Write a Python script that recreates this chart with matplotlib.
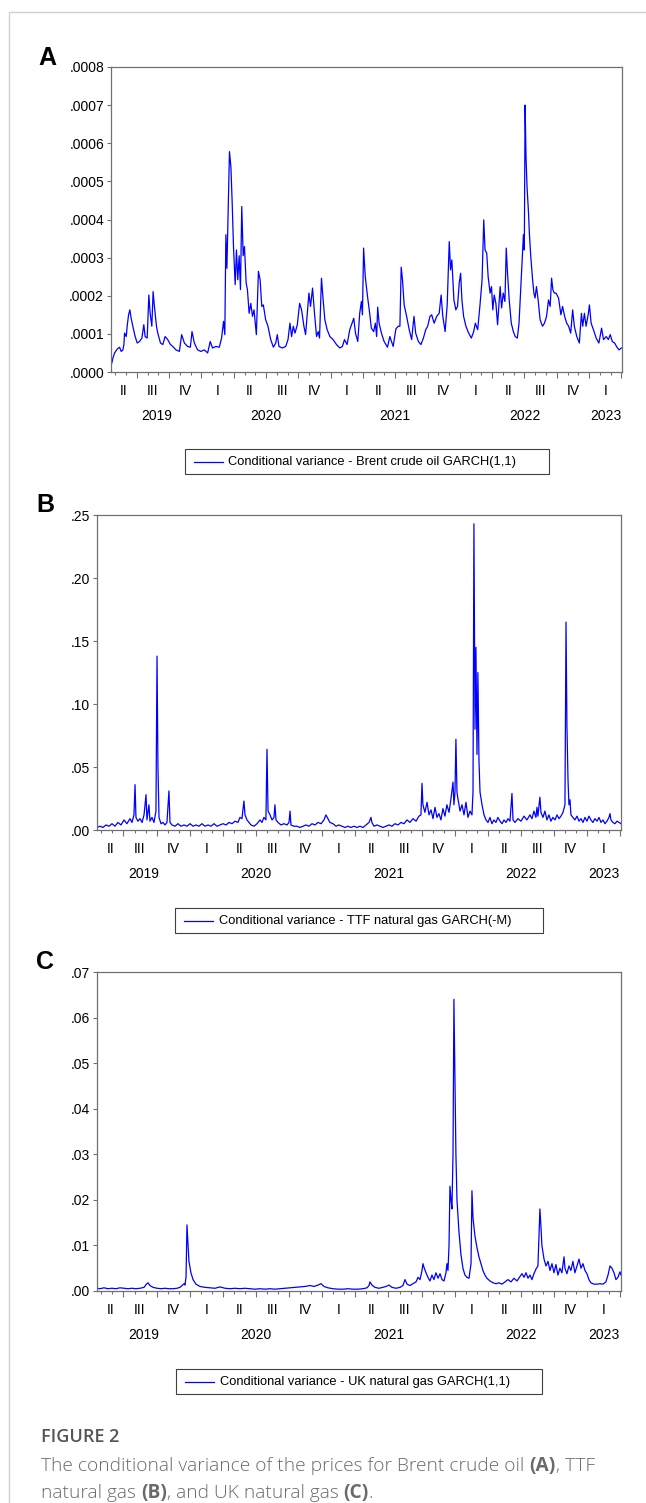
import matplotlib
matplotlib.use("Agg")
import matplotlib.pyplot as plt
from matplotlib.lines import Line2D
from matplotlib.patches import Rectangle

# ---- data (time in decimal years, values = conditional variance) ----
t_brent = [2019.307, 2019.315, 2019.328, 2019.348, 2019.366, 2019.379, 2019.392, 2019.400, 2019.405,
           2019.418, 2019.425, 2019.436, 2019.446, 2019.456, 2019.469, 2019.487, 2019.503, 2019.521,
           2019.539, 2019.554, 2019.564, 2019.580, 2019.593, 2019.603, 2019.616, 2019.626, 2019.636,
           2019.652, 2019.662, 2019.683, 2019.701, 2019.719, 2019.739, 2019.760, 2019.778, 2019.803,
           2019.829, 2019.847, 2019.868, 2019.893, 2019.914, 2019.927, 2019.945, 2019.970, 2019.996,
           2020.022, 2020.048, 2020.068, 2020.086, 2020.112, 2020.138, 2020.156, 2020.171, 2020.181,
           2020.189, 2020.197, 2020.207, 2020.217, 2020.228, 2020.238, 2020.248, 2020.261, 2020.271,
           2020.281, 2020.292, 2020.302, 2020.312, 2020.323, 2020.333, 2020.346, 2020.356, 2020.369,
           2020.382, 2020.395, 2020.407, 2020.425, 2020.441, 2020.454, 2020.467, 2020.479, 2020.497,
           2020.515, 2020.536, 2020.557, 2020.575, 2020.587, 2020.600, 2020.626, 2020.652, 2020.670,
           2020.685, 2020.698, 2020.711, 2020.724, 2020.742, 2020.760, 2020.775, 2020.793, 2020.806,
           2020.819, 2020.832, 2020.844, 2020.860, 2020.875, 2020.891, 2020.904, 2020.914, 2020.929,
           2020.942, 2020.955, 2020.973, 2020.994, 2021.019, 2021.045, 2021.071, 2021.091, 2021.107,
           2021.127, 2021.148, 2021.166, 2021.179, 2021.192, 2021.210, 2021.225, 2021.238, 2021.246,
           2021.255, 2021.268, 2021.284, 2021.302, 2021.315, 2021.333, 2021.346, 2021.356, 2021.364,
           2021.375, 2021.393, 2021.414, 2021.440, 2021.458, 2021.484, 2021.505, 2021.523, 2021.536,
           2021.546, 2021.556, 2021.569, 2021.588, 2021.608, 2021.627, 2021.645, 2021.658, 2021.679,
           2021.699, 2021.718, 2021.736, 2021.751, 2021.769, 2021.782, 2021.801, 2021.821, 2021.840,
           2021.855, 2021.868, 2021.886, 2021.902, 2021.918, 2021.928, 2021.938, 2021.954, 2021.969,
           2021.982, 2021.995, 2022.006, 2022.016, 2022.029, 2022.047, 2022.068, 2022.089, 2022.107,
           2022.120, 2022.138, 2022.156, 2022.172, 2022.185, 2022.195, 2022.208, 2022.219, 2022.234,
           2022.245, 2022.255, 2022.266, 2022.279, 2022.292, 2022.302, 2022.312, 2022.323, 2022.336,
           2022.349, 2022.359, 2022.369, 2022.382, 2022.398, 2022.414, 2022.429, 2022.445, 2022.458,
           2022.471, 2022.481, 2022.492, 2022.499, 2022.505, 2022.512, 2022.520, 2022.531, 2022.538,
           2022.549, 2022.562, 2022.573, 2022.582, 2022.593, 2022.606, 2022.621, 2022.640, 2022.655,
           2022.671, 2022.686, 2022.699, 2022.710, 2022.720, 2022.731, 2022.744, 2022.764, 2022.782,
           2022.795, 2022.811, 2022.827, 2022.842, 2022.858, 2022.873, 2022.886, 2022.905, 2022.925,
           2022.941, 2022.951, 2022.964, 2022.977, 2022.993, 2023.003, 2023.016, 2023.034, 2023.055,
           2023.076, 2023.097, 2023.112, 2023.133, 2023.149, 2023.164, 2023.180, 2023.198, 2023.216,
           2023.232, 2023.250]
v_brent = [0.24, 0.37, 0.50, 0.60, 0.65, 0.54, 0.58, 0.72, 1.02,
           0.93, 1.20, 1.50, 1.63, 1.41, 1.20, 0.93, 0.76, 0.80,
           0.89, 1.24, 0.93, 0.89, 2.02, 1.54, 1.20, 2.11, 1.72,
           1.20, 1.02, 0.76, 0.72, 0.93, 0.85, 0.72, 0.67, 0.58,
           0.54, 0.98, 0.76, 0.67, 0.65, 1.06, 0.76, 0.58, 0.54,
           0.58, 0.50, 0.80, 0.63, 0.67, 0.65, 0.89, 1.33, 0.98,
           3.60, 2.72, 4.25, 5.78, 5.38, 4.43, 3.29, 2.29, 3.20,
           2.42, 3.05, 2.16, 4.34, 3.05, 3.29, 2.33, 2.16, 1.54,
           1.80, 1.46, 1.63, 0.98, 2.64, 2.42, 1.72, 1.76, 1.37,
           1.20, 0.85, 0.65, 0.76, 0.98, 0.67, 0.63, 0.67, 0.85,
           1.28, 0.93, 1.20, 1.02, 1.24, 1.80, 1.63, 1.20, 0.98,
           1.54, 2.07, 1.72, 2.20, 1.54, 0.93, 1.06, 0.89, 2.46,
           1.89, 1.37, 1.11, 0.93, 0.85, 0.72, 0.63, 0.67, 0.85,
           0.72, 1.11, 1.28, 1.41, 1.02, 0.80, 1.54, 1.85, 1.50,
           3.25, 2.50, 2.02, 1.54, 1.15, 1.06, 1.28, 0.93, 1.70,
           1.28, 1.02, 0.80, 0.65, 0.93, 0.67, 1.13, 1.20, 1.20,
           2.75, 2.42, 1.76, 1.46, 1.11, 0.85, 1.46, 1.02, 0.80,
           0.72, 0.89, 1.11, 1.20, 1.46, 1.50, 1.28, 1.46, 1.54,
           2.02, 1.46, 1.06, 1.76, 3.42, 2.68, 2.94, 1.89, 1.63,
           1.72, 2.33, 2.59, 1.89, 1.46, 1.20, 1.02, 0.89, 1.06,
           1.28, 1.11, 1.76, 2.42, 3.99, 3.20, 3.12, 2.50, 2.07,
           2.24, 1.63, 2.02, 1.80, 1.24, 1.72, 2.24, 1.68, 2.07,
           1.85, 3.25, 2.59, 1.89, 1.28, 1.06, 0.93, 0.89, 1.28,
           2.16, 2.81, 3.60, 3.20, 7.00, 5.65, 4.86, 4.20, 3.64,
           3.03, 2.46, 2.07, 1.94, 2.24, 1.89, 1.37, 1.20, 1.28,
           1.46, 1.89, 1.72, 2.46, 2.16, 2.07, 2.07, 1.94, 1.50,
           1.72, 1.46, 1.28, 1.20, 1.02, 1.63, 1.20, 0.93, 0.76,
           1.54, 1.20, 1.54, 1.20, 1.50, 1.76, 1.28, 1.11, 0.89,
           0.76, 1.15, 0.85, 0.93, 0.85, 0.98, 0.80, 0.76, 0.65,
           0.58, 0.63]
v_brent = [v * 1e-4 for v in v_brent]

t_ttf = [2019.300, 2019.323, 2019.345, 2019.368, 2019.391, 2019.413, 2019.436, 2019.458, 2019.481, 2019.504,
         2019.526, 2019.549, 2019.564, 2019.579, 2019.587, 2019.594, 2019.609, 2019.625, 2019.640, 2019.655,
         2019.670, 2019.677, 2019.692, 2019.700, 2019.715, 2019.730, 2019.745, 2019.753, 2019.760, 2019.768,
         2019.783, 2019.798, 2019.813, 2019.828, 2019.843, 2019.851, 2019.866, 2019.889, 2019.911, 2019.934,
         2019.957, 2019.979, 2020.002, 2020.025, 2020.047, 2020.070, 2020.092, 2020.115, 2020.138, 2020.160,
         2020.183, 2020.206, 2020.228, 2020.251, 2020.274, 2020.296, 2020.319, 2020.342, 2020.364, 2020.379,
         2020.394, 2020.409, 2020.417, 2020.432, 2020.447, 2020.462, 2020.485, 2020.508, 2020.530, 2020.545,
         2020.560, 2020.575, 2020.583, 2020.591, 2020.606, 2020.621, 2020.636, 2020.643, 2020.651, 2020.666,
         2020.689, 2020.711, 2020.734, 2020.749, 2020.757, 2020.764, 2020.787, 2020.809, 2020.832, 2020.855,
         2020.877, 2020.900, 2020.923, 2020.945, 2020.968, 2020.991, 2021.013, 2021.028, 2021.043, 2021.058,
         2021.081, 2021.104, 2021.126, 2021.149, 2021.172, 2021.194, 2021.217, 2021.240, 2021.262, 2021.285,
         2021.308, 2021.330, 2021.353, 2021.368, 2021.375, 2021.391, 2021.413, 2021.436, 2021.458, 2021.481,
         2021.504, 2021.526, 2021.549, 2021.572, 2021.594, 2021.617, 2021.640, 2021.662, 2021.685, 2021.708,
         2021.730, 2021.745, 2021.753, 2021.760, 2021.775, 2021.791, 2021.806, 2021.821, 2021.836, 2021.851,
         2021.866, 2021.881, 2021.896, 2021.911, 2021.926, 2021.941, 2021.957, 2021.972, 2021.987, 2021.994,
         2022.002, 2022.009, 2022.017, 2022.024, 2022.040, 2022.055, 2022.070, 2022.085, 2022.100, 2022.115,
         2022.130, 2022.138, 2022.145, 2022.153, 2022.160, 2022.168, 2022.175, 2022.183, 2022.191, 2022.206,
         2022.221, 2022.236, 2022.251, 2022.266, 2022.281, 2022.296, 2022.311, 2022.326, 2022.342, 2022.357,
         2022.372, 2022.387, 2022.402, 2022.417, 2022.432, 2022.440, 2022.455, 2022.477, 2022.500, 2022.523,
         2022.545, 2022.568, 2022.583, 2022.598, 2022.613, 2022.621, 2022.628, 2022.643, 2022.651, 2022.666,
         2022.681, 2022.696, 2022.711, 2022.726, 2022.741, 2022.757, 2022.772, 2022.787, 2022.802, 2022.817,
         2022.832, 2022.840, 2022.847, 2022.855, 2022.862, 2022.870, 2022.877, 2022.892, 2022.907, 2022.923,
         2022.938, 2022.953, 2022.968, 2022.983, 2022.998, 2023.013, 2023.028, 2023.043, 2023.058, 2023.074,
         2023.089, 2023.104, 2023.119, 2023.134, 2023.149, 2023.164, 2023.172, 2023.179, 2023.194, 2023.209,
         2023.225, 2023.240, 2023.255]
v_ttf = [.002, .003, .002, .004, .003, .005, .003, .006, .004, .008,
         .005, .009, .006, .012, .036, .010, .007, .009, .006, .012,
         .028, .008, .020, .007, .010, .006, .015, .138, .050, .010,
         .005, .006, .004, .006, .031, .006, .004, .003, .005, .003,
         .004, .003, .005, .003, .004, .003, .005, .003, .004, .003,
         .005, .003, .004, .005, .004, .006, .005, .007, .006, .010,
         .009, .023, .012, .008, .006, .004, .003, .005, .008, .006,
         .010, .008, .064, .015, .012, .008, .010, .020, .008, .006,
         .004, .005, .004, .006, .015, .004, .003, .003, .002, .003,
         .004, .003, .005, .004, .006, .005, .008, .012, .009, .006,
         .005, .003, .004, .003, .002, .003, .002, .003, .002, .003,
         .002, .004, .006, .010, .006, .003, .004, .003, .002, .003,
         .004, .003, .005, .004, .006, .005, .008, .006, .009, .007,
         .011, .012, .037, .020, .014, .022, .012, .016, .009, .018,
         .010, .013, .008, .017, .011, .020, .014, .025, .038, .020,
         .030, .072, .030, .025, .015, .020, .012, .022, .010, .015,
         .012, .030, .243, .080, .145, .060, .125, .055, .030, .020,
         .012, .008, .006, .010, .005, .008, .006, .010, .007, .005,
         .008, .006, .009, .007, .029, .008, .006, .009, .007, .011,
         .008, .012, .009, .015, .010, .018, .011, .026, .014, .010,
         .015, .008, .012, .007, .010, .008, .012, .009, .011, .014,
         .020, .165, .082, .040, .020, .024, .012, .010, .008, .011,
         .007, .009, .006, .010, .007, .011, .008, .006, .009, .007,
         .010, .006, .008, .005, .007, .010, .013, .008, .006, .005,
         .007, .006, .005]

t_uk = [2019.300, 2019.323, 2019.353, 2019.383, 2019.413, 2019.443, 2019.474, 2019.504, 2019.534, 2019.564,
        2019.594, 2019.625, 2019.655, 2019.670, 2019.685, 2019.700, 2019.723, 2019.753, 2019.783, 2019.813,
        2019.843, 2019.874, 2019.904, 2019.926, 2019.942, 2019.957, 2019.964, 2019.972, 2019.979, 2019.987,
        2019.994, 2020.009, 2020.025, 2020.047, 2020.077, 2020.115, 2020.153, 2020.191, 2020.228, 2020.266,
        2020.304, 2020.342, 2020.379, 2020.417, 2020.455, 2020.492, 2020.530, 2020.568, 2020.606, 2020.643,
        2020.681, 2020.719, 2020.757, 2020.794, 2020.832, 2020.870, 2020.908, 2020.938, 2020.968, 2020.991,
        2021.013, 2021.043, 2021.081, 2021.119, 2021.157, 2021.194, 2021.232, 2021.270, 2021.308, 2021.338,
        2021.353, 2021.360, 2021.375, 2021.398, 2021.428, 2021.458, 2021.481, 2021.504, 2021.526, 2021.557,
        2021.587, 2021.609, 2021.625, 2021.640, 2021.662, 2021.685, 2021.708, 2021.723, 2021.738, 2021.753,
        2021.760, 2021.768, 2021.783, 2021.798, 2021.813, 2021.828, 2021.843, 2021.858, 2021.874, 2021.889,
        2021.904, 2021.919, 2021.934, 2021.941, 2021.949, 2021.957, 2021.964, 2021.972, 2021.979, 2021.987,
        2021.994, 2022.002, 2022.009, 2022.017, 2022.032, 2022.047, 2022.062, 2022.077, 2022.092, 2022.108,
        2022.123, 2022.130, 2022.138, 2022.153, 2022.168, 2022.183, 2022.198, 2022.213, 2022.228, 2022.243,
        2022.266, 2022.289, 2022.311, 2022.334, 2022.357, 2022.379, 2022.402, 2022.425, 2022.447, 2022.470,
        2022.493, 2022.508, 2022.523, 2022.538, 2022.553, 2022.568, 2022.583, 2022.598, 2022.613, 2022.628,
        2022.636, 2022.643, 2022.651, 2022.658, 2022.674, 2022.689, 2022.704, 2022.719, 2022.734, 2022.749,
        2022.764, 2022.779, 2022.794, 2022.809, 2022.825, 2022.832, 2022.847, 2022.862, 2022.877, 2022.892,
        2022.907, 2022.923, 2022.938, 2022.953, 2022.968, 2022.983, 2022.998, 2023.013, 2023.028, 2023.051,
        2023.074, 2023.096, 2023.119, 2023.141, 2023.157, 2023.172, 2023.187, 2023.202, 2023.217, 2023.232,
        2023.247, 2023.255]
v_uk = [.0006, .0005, .0007, .0005, .0006, .0005, .0007, .0006, .0005, .0006,
        .0005, .0006, .0008, .0014, .0018, .0012, .0008, .0006, .0005, .0006,
        .0005, .0005, .0006, .0008, .0012, .0016, .0013, .0030, .0145, .0100,
        .0065, .0040, .0025, .0015, .0010, .0008, .0007, .0006, .0009, .0006,
        .0005, .0006, .0005, .0006, .0005, .0004, .0005, .0004, .0005, .0004,
        .0005, .0006, .0007, .0008, .0009, .0010, .0012, .0010, .0013, .0016,
        .0010, .0007, .0005, .0004, .0004, .0005, .0004, .0004, .0005, .0007,
        .0012, .0020, .0013, .0008, .0006, .0008, .0010, .0013, .0008, .0006,
        .0008, .0012, .0025, .0015, .0012, .0016, .0020, .0030, .0025, .0045,
        .0060, .0052, .0040, .0030, .0022, .0035, .0025, .0040, .0028, .0038,
        .0025, .0022, .0040, .0060, .0045, .0100, .0230, .0200, .0180, .0300,
        .0640, .0450, .0300, .0200, .0130, .0080, .0050, .0035, .0030, .0028,
        .0060, .0220, .0160, .0120, .0095, .0075, .0060, .0045, .0035, .0028,
        .0022, .0018, .0016, .0018, .0015, .0020, .0025, .0020, .0028, .0022,
        .0032, .0038, .0030, .0040, .0028, .0035, .0025, .0038, .0048, .0055,
        .0120, .0180, .0140, .0100, .0070, .0055, .0065, .0045, .0060, .0040,
        .0058, .0035, .0050, .0040, .0075, .0050, .0038, .0055, .0045, .0065,
        .0040, .0055, .0070, .0050, .0060, .0045, .0038, .0025, .0018, .0015,
        .0015, .0016, .0015, .0020, .0035, .0055, .0050, .0040, .0025, .0030,
        .0042, .0035]

labels = ["Conditional variance - Brent crude oil GARCH(1,1)",
          "Conditional variance - TTF natural gas GARCH(-M)",
          "Conditional variance - UK natural gas GARCH(1,1)"]
quarter_names = ["I", "II", "III", "IV"]
x_start, x_end = 2019.30, 2023.255

W, H = 646, 1503
plt.rcParams['font.family'] = ['Liberation Sans', 'DejaVu Sans']
fig = plt.figure(figsize=(W / 100, H / 100), dpi=100)
renderer = fig.canvas.get_renderer()
GRAY = '#707070'
BLUE = '#0000ff'


def fx(px):
    return px / W


def fy(py):
    return 1 - py / H


def panel(l, t, r, b, tt, vv, ymax, ystep, ndig, label, letter, letter_xy, leg_top):
    ax = fig.add_axes([fx(l), fy(b), (r - l) / W, (b - t) / H])
    ax.plot(tt, vv, color=BLUE, lw=0.9)
    ax.set_xlim(x_start, x_end)
    ax.set_ylim(0, ymax)
    n = int(round(ymax / ystep))
    yt = [i * ystep for i in range(n + 1)]
    ax.set_yticks(yt)
    ax.set_yticklabels([f"{y:.{ndig}f}".lstrip('0') for y in yt], fontsize=10)
    months = [y + m / 12 for y in range(2019, 2024) for m in range(12)]
    months = [m for m in months if x_start - 1e-6 <= m <= x_end + 0.01]
    major = [m for m in months if round(m * 12) % 3 == 0]
    ax.set_xticks(major)
    ax.set_xticks(months, minor=True)
    ax.set_xticklabels([])
    ax.tick_params(axis='x', which='major', length=4.5, width=0.8, color=GRAY)
    ax.tick_params(axis='x', which='minor', length=2.2, width=0.8, color=GRAY)
    ax.tick_params(axis='y', length=3, width=0.8, color=GRAY, pad=2)
    for s in ax.spines.values():
        s.set_color(GRAY)
        s.set_linewidth(0.9)
    # quarter and year labels
    for y in range(2019, 2024):
        for q in range(4):
            a, bq = max(y + q / 4, x_start), min(y + (q + 1) / 4, x_end)
            if bq - a > 0.05:
                ax.annotate(quarter_names[q], xy=((a + bq) / 2, 0), xycoords=('data', 'axes fraction'),
                            xytext=(0, -13.5), textcoords='offset points', ha='center', va='center',
                            fontsize=10)
        a, by = max(y, x_start), min(y + 1, x_end)
        ax.annotate(str(y), xy=((a + by) / 2, 0), xycoords=('data', 'axes fraction'),
                    xytext=(0, -32), textcoords='offset points', ha='center', va='center',
                    fontsize=10)
    # legend box, drawn like the EViews one
    cx = (l + r) / 2
    txt = fig.text(0, 0, label, fontsize=9.3)
    tw = txt.get_window_extent(renderer).width
    bw = tw + 44 + 32
    bl = cx - bw / 2
    txt.set_position((fx(bl + 44), fy(leg_top + 13)))
    txt.set_va('center')
    fig.add_artist(Rectangle((fx(bl), fy(leg_top + 25)), bw / W, 25 / H, transform=fig.transFigure,
                             fill=False, edgecolor='#404040', lw=0.8))
    fig.add_artist(Line2D([fx(bl + 9), fx(bl + 38)], [fy(leg_top + 13)] * 2, transform=fig.transFigure,
                          color=BLUE, lw=0.9))
    fig.text(fx(letter_xy[0]), fy(letter_xy[1]), letter, fontsize=18, fontweight='bold',
             ha='left', va='baseline')
    return ax


panel(111, 67, 622, 372, t_brent, v_brent, 0.0008, 0.0001, 4, labels[0], 'A', (38, 65), 449)
panel(97, 515, 621, 830, t_ttf, v_ttf, 0.25, 0.05, 2, labels[1], 'B', (36, 512), 908)
panel(97, 972, 621, 1291, t_uk, v_uk, 0.07, 0.01, 2, labels[2], 'C', (36, 969), 1369)

# page border (top and left)
fig.add_artist(Line2D([fx(9), fx(9), 1], [0, fy(12), fy(12)], transform=fig.transFigure,
                      color='#d0d0d0', lw=1))

# caption
cap_font = ['Open Sans', 'DejaVu Sans']
fig.text(fx(41), fy(1442), "FIGURE 2", fontsize=13, color='#555555', family=cap_font,
         fontweight='semibold', va='baseline')
lines = [[("The conditional variance of the prices for Brent crude oil ", 'light'), ("(A)", 'bold'),
          (", TTF", 'light')],
         [("natural gas ", 'light'), ("(B)", 'bold'), (", and UK natural gas ", 'light'),
          ("(C)", 'bold'), (".", 'light')]]
for base, parts in zip([1471, 1498], lines):
    x = 41
    for s, wt in parts:
        tx = fig.text(fx(x), fy(base), s, fontsize=13.8, color='#6a6a6a', family=cap_font,
                      fontweight=wt, va='baseline')
        x += tx.get_window_extent(renderer).width

fig.savefig("out.png", dpi=100)
